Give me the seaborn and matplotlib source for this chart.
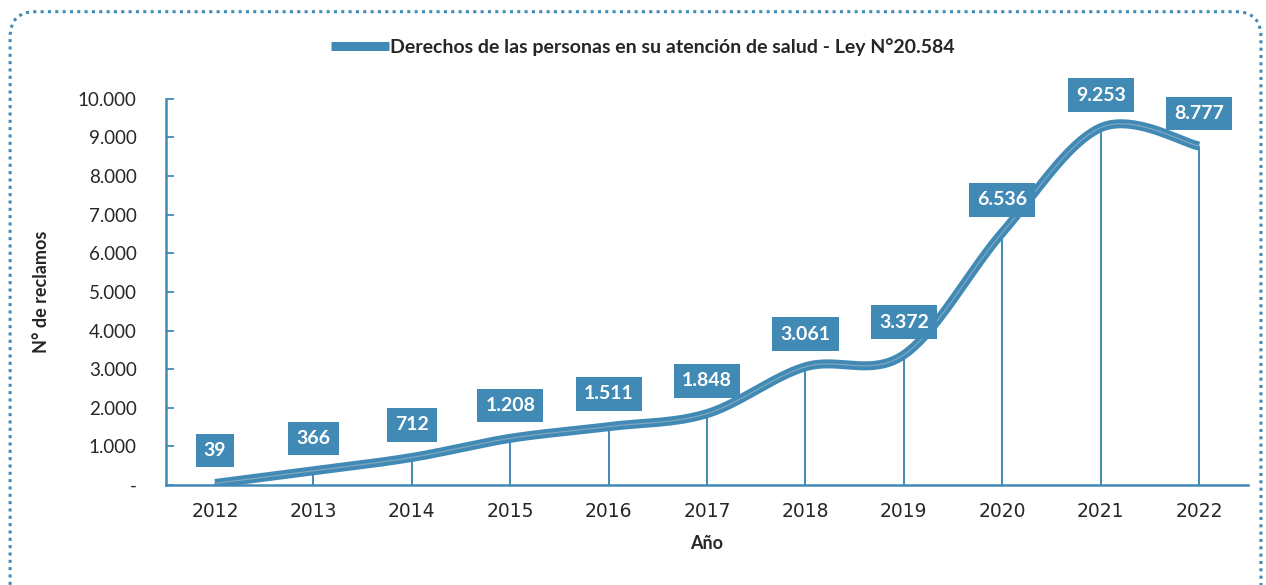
import numpy as np
import pandas as pd
import seaborn as sns
import matplotlib
matplotlib.use("Agg")
from matplotlib import pyplot as plt
from matplotlib.patches import FancyBboxPatch

# datos
anios = ["2012", "2013", "2014", "2015", "2016", "2017", "2018", "2019", "2020", "2021", "2022"]
reclamos = [39, 366, 712, 1208, 1511, 1848, 3061, 3372, 6536, 9253, 8777]
serie = "Derechos de las personas en su atención de salud - Ley N°20.584"

AZUL = "#418ab6"

sns.set_style("white")
plt.rcParams['font.family'] = ['Lato', 'DejaVu Sans']


def miles(v):
    # formato con punto de miles
    if v == 0:
        return "-"
    return f"{v:,.0f}".replace(",", ".")


def suavizar(y, n=40):
    """curva suavizada tipo Excel (Catmull-Rom en forma Bezier)"""
    x = np.arange(len(y), dtype=float)
    y = np.asarray(y, dtype=float)
    px = np.concatenate([[x[0]], x, [x[-1]]])
    py = np.concatenate([[y[0]], y, [y[-1]]])
    xs, ys = [], []
    t = np.linspace(0, 1, n)
    for i in range(len(y) - 1):
        p0 = np.array([px[i], py[i]])
        p1 = np.array([px[i + 1], py[i + 1]])
        p2 = np.array([px[i + 2], py[i + 2]])
        p3 = np.array([px[i + 3], py[i + 3]])
        c1 = p1 + (p2 - p0) / 6
        c2 = p2 - (p3 - p1) / 6
        for k in t:
            b = (1 - k) ** 3 * p1 + 3 * (1 - k) ** 2 * k * c1 + 3 * (1 - k) * k ** 2 * c2 + k ** 3 * p2
            xs.append(b[0])
            ys.append(b[1])
    return np.array(xs), np.array(ys)


df = pd.DataFrame({"anio": anios, "reclamos": reclamos})
df["pos"] = np.arange(len(df))

fig = plt.figure(figsize=(12.66, 5.85), dpi=100)
ax = fig.add_axes([0.131, 0.171, 0.855, 0.66])

# lineas verticales
ax.vlines(df["pos"], 0, df["reclamos"], color=AZUL, lw=1.4, zorder=1)

xs, ys = suavizar(reclamos)
curva = pd.DataFrame({"x": xs, "y": ys})
sns.lineplot(data=curva, x="x", y="y", sort=False, color=AZUL, lw=6.5,
             solid_capstyle="butt", ax=ax, zorder=3, label=serie)
sns.lineplot(data=curva, x="x", y="y", sort=False, color="#86a9bf", lw=0.8,
             ax=ax, zorder=4)

# etiquetas de datos
for _, r in df.iterrows():
    ax.annotate(miles(r["reclamos"]), (r["pos"], r["reclamos"]), xytext=(0, 23.5),
                textcoords="offset points", ha="center", va="center",
                fontsize=14, fontweight="bold", color="white", zorder=6,
                bbox=dict(boxstyle="square,pad=0.42", fc=AZUL, ec="none"))

ax.set_xlim(-0.5, len(anios) - 0.5)
ax.set_ylim(0, 10000)
ax.set_xticks(df["pos"])
ax.set_xticklabels(anios, fontsize=13.5, family="DejaVu Sans")
yt = np.arange(0, 10001, 1000)
ax.set_yticks(yt)
ax.set_yticklabels([miles(v) for v in yt], fontsize=13.5)
ax.tick_params(axis="x", length=0, pad=12)
ax.tick_params(axis="y", left=True, direction="in", length=6, width=1.3, color=AZUL, pad=21)

ax.set_xlabel("Año", fontsize=13, fontweight="bold", labelpad=10)
ax.set_ylabel("N° de reclamos", fontsize=13, fontweight="bold", labelpad=20)

sns.despine(ax=ax)
for s in ["left", "bottom"]:
    ax.spines[s].set_color(AZUL)
    ax.spines[s].set_linewidth(1.8)

ax.get_legend().remove()
h, l = ax.get_legend_handles_labels()
fig.legend(h[:1], l[:1], loc="center", bbox_to_anchor=(0.508, 0.92), frameon=False,
           prop=dict(size=14, weight="bold"), handlelength=3.0, handletextpad=0.05)

# borde punteado
borde = FancyBboxPatch((0.008, -0.05), 0.988, 1.03, boxstyle="round,pad=0,rounding_size=0.02",
                       transform=fig.transFigure, fill=False, ec=AZUL, lw=2.2,
                       ls=(0, (1, 1.4)), mutation_aspect=2.16)
fig.patches.append(borde)

fig.savefig("out.png", dpi=100)
